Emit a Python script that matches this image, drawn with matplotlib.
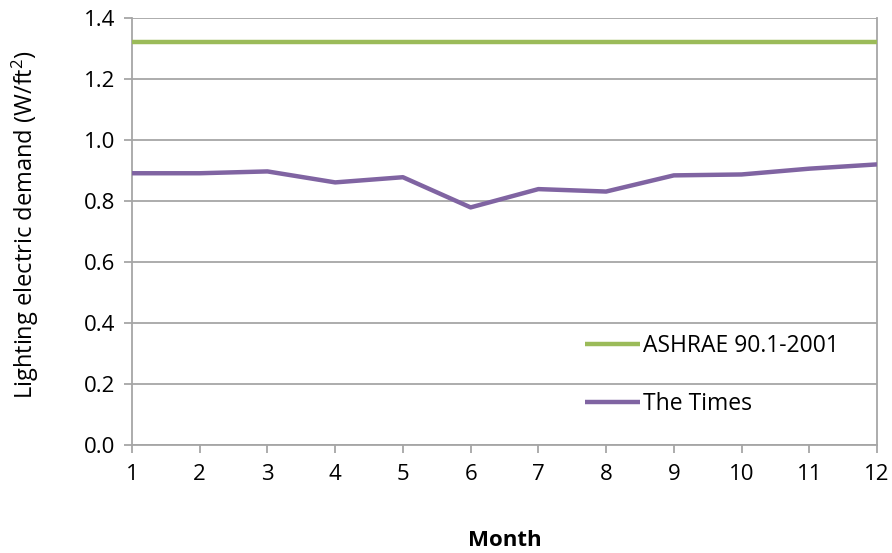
import matplotlib
matplotlib.use("Agg")
import matplotlib.pyplot as plt

months = list(range(1, 13))
ashrae = [1.32] * 12
times = [0.891, 0.891, 0.897, 0.861, 0.878, 0.779, 0.839, 0.831, 0.884, 0.887, 0.906, 0.920]
yticks = [0.0, 0.2, 0.4, 0.6, 0.8, 1.0, 1.2, 1.4]

plt.rcParams['font.family'] = ['Open Sans', 'DejaVu Sans']
plt.rcParams['mathtext.default'] = 'regular'

fs = 16
fig = plt.figure(figsize=(8.92, 5.53), dpi=100)
ax = fig.add_axes([132/892, 1-445/553, (877-132)/892, (445-18)/553])

grid_c = '#a6a6a6'
ax.plot(months, ashrae, color='#9BBB59', lw=3.2, label='ASHRAE 90.1-2001', solid_capstyle='butt', zorder=3)
ax.plot(months, times, color='#8064A2', lw=3.2, label='The Times', solid_capstyle='butt', zorder=3)

ax.set_xlim(1, 12)
ax.set_ylim(0, 1.4)
ax.set_xticks(months)
ax.set_yticks(yticks)
ax.set_yticklabels([f"{v:.1f}" for v in yticks])
ax.yaxis.grid(True, color=grid_c, lw=1.3)
ax.set_axisbelow(True)

for s in ['left', 'bottom', 'right']:
    ax.spines[s].set_color(grid_c)
    ax.spines[s].set_linewidth(1.3)
ax.spines['top'].set_visible(False)
ax.tick_params(axis='both', direction='out', length=6, width=1.3, color=grid_c, labelsize=fs, colors='black')
ax.tick_params(axis='x', pad=8)
ax.tick_params(axis='y', pad=6)
for t in ax.get_xticklabels() + ax.get_yticklabels():
    t.set_color('black')

ax.set_xlabel('Month', fontsize=fs, fontweight='bold', va='center')
ax.xaxis.set_label_coords(0.5, (445-540)/427)
ax.set_ylabel('Lighting electric demand (W/ft$^2$)', fontsize=17, va='center')
ax.yaxis.set_label_coords((25-132)/745, (445-225)/427)

leg = ax.legend(loc='center left', bbox_to_anchor=((585-132)/745, (445-375)/427), frameon=False, fontsize=16.5,
                handlelength=2.4, handletextpad=0.15, labelspacing=1.5, borderpad=0, borderaxespad=0)

fig.savefig('out.png', dpi=100)
